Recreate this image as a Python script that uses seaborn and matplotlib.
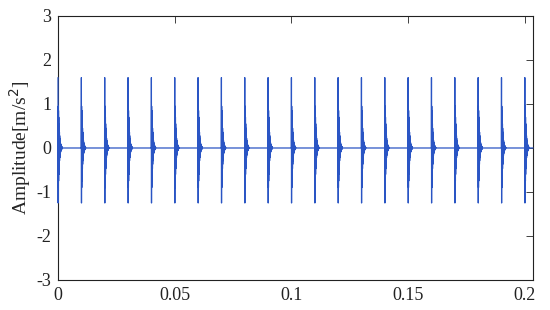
import numpy as np
import matplotlib
matplotlib.use('Agg')
import matplotlib.pyplot as plt
import seaborn as sns

# impulse arrival times [s] (one every 0.01 s)
impulse_times = [0.00, 0.01, 0.02, 0.03, 0.04, 0.05, 0.06, 0.07, 0.08, 0.09, 0.10,
                 0.11, 0.12, 0.13, 0.14, 0.15, 0.16, 0.17, 0.18, 0.19, 0.20]
# estimated positive / negative envelope of one burst, one pair per 0.0001 s
burst_upper = [1.6, 0.95, 0.85, 0.7, 0.55, 0.45, 0.36, 0.28, 0.22, 0.17,
               0.13, 0.1, 0.08, 0.06, 0.05, 0.04, 0.03, 0.02, 0.01]
burst_lower = [-1.25, -0.9, -0.75, -0.6, -0.47, -0.37, -0.29, -0.22, -0.17, -0.13,
               -0.1, -0.08, -0.06, -0.05, -0.04, -0.03, -0.02, -0.01, 0.0]
sample_step = 0.00005
t_end = 0.2035

x_ticks = [0, 0.05, 0.1, 0.15, 0.2]
x_tick_labels = ['0', '0.05', '0.1', '0.15', '0.2']
y_ticks = [-3, -2, -1, 0, 1, 2, 3]


# build the vibration signal from the bursts
burst = []
for up, lo in zip(burst_upper, burst_lower):
    burst.append(up)
    burst.append(lo)
n = int(round(t_end / sample_step)) + 1
t = np.arange(n) * sample_step
y = np.zeros(n)
for ti in impulse_times:
    i0 = int(round(ti / sample_step))
    seg = burst[:max(0, n - i0)]
    y[i0:i0 + len(seg)] = seg

sns.set_style('white')
plt.rcParams['font.family'] = ['Liberation Serif', 'DejaVu Serif']
plt.rcParams['axes.unicode_minus'] = False

fig = plt.figure(figsize=(5.5, 3.1), dpi=100)
ax = fig.add_axes([0.1055, 0.0968, 0.8636, 0.8516])
sns.lineplot(x=t, y=y, ax=ax, color='#2a55c4', linewidth=0.9, estimator=None)
for ln in ax.lines:
    ln.set_clip_on(False)
    ln.set_zorder(3)

ax.set_xlim(0, t_end)
ax.set_ylim(-3, 3)
ax.set_xticks(x_ticks)
ax.set_xticklabels(x_tick_labels)
ax.set_yticks(y_ticks)
ax.set_ylabel('Amplitude[m/s$^2$]', fontsize=14, labelpad=2)
ax.tick_params(direction='in', top=True, right=True, labelsize=13,
               length=5, width=0.6, colors='#222222', pad=5)
for s in ax.spines.values():
    s.set_linewidth(0.8)
    s.set_color('#222222')
    s.set_zorder(2)

plt.savefig('out.png', dpi=100)
